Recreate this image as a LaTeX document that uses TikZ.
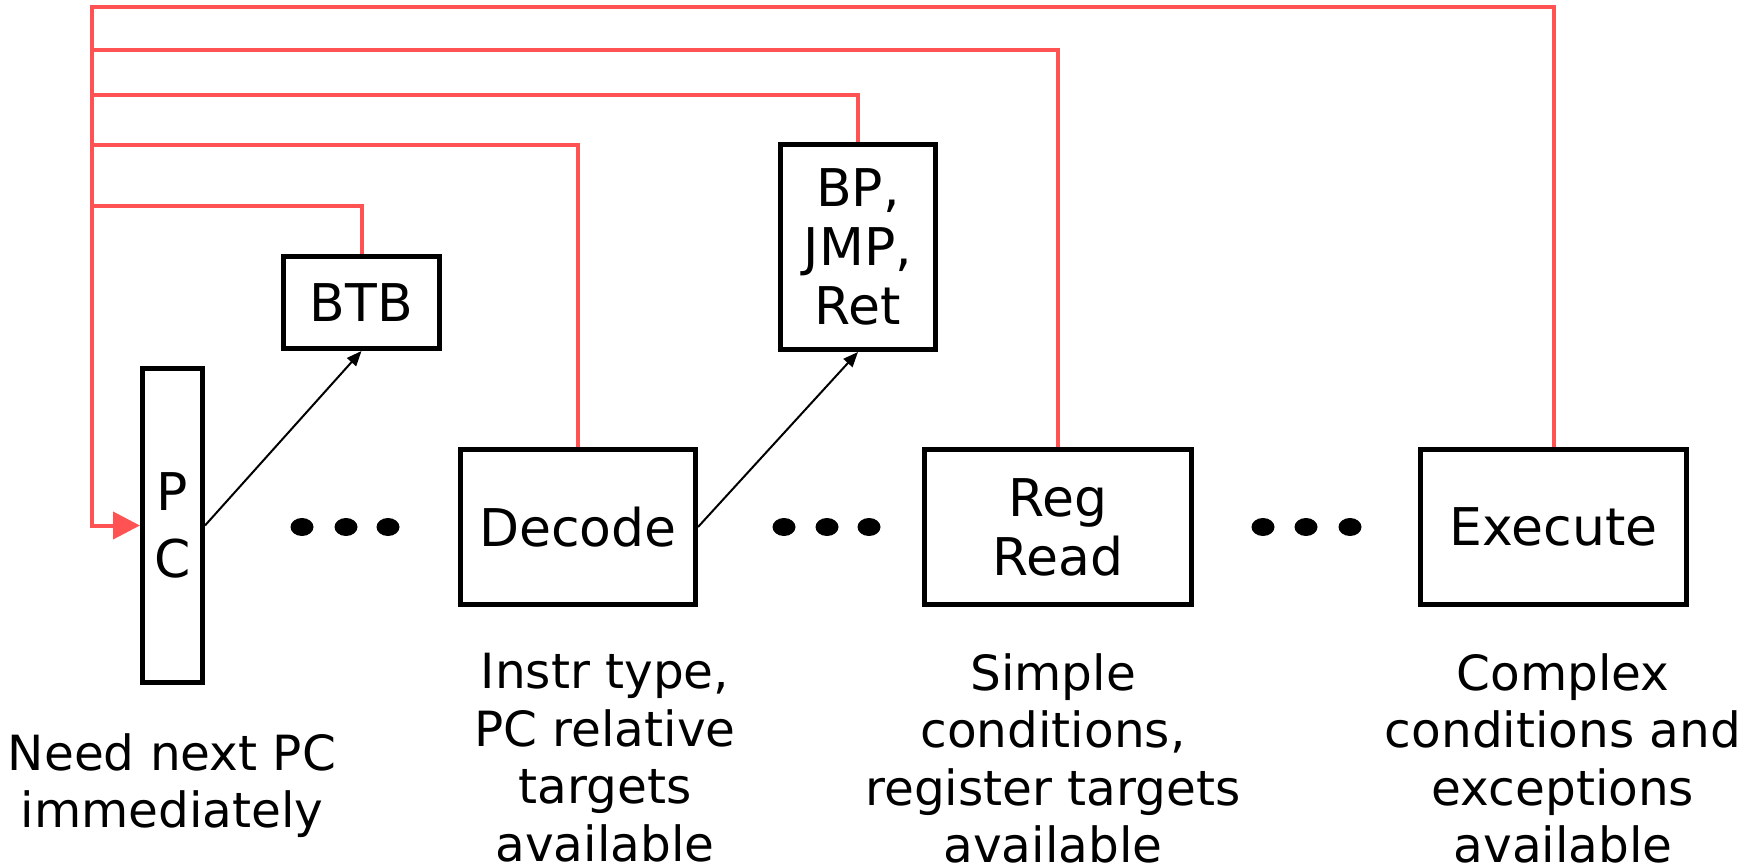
\documentclass[tikz,border=0pt]{standalone}
\usepackage{fontspec}
\setmainfont{DejaVu Sans}
\usetikzlibrary{calc,arrows.meta}
\definecolor{branchred}{RGB}{255,82,82}

\tikzset{
    stage/.style={draw, line width=5pt, inner sep=0pt, align=center,
        font=\fontsize{52}{59}\selectfont},
    note/.style={inner sep=0pt, align=center, anchor=north,
        font=\fontsize{48.5}{57.5}\selectfont},
    redirect/.style={branchred, line width=4pt},
    lookup/.style={-{Triangle[length=15pt,width=12pt]}, line width=2pt},
}

\begin{document}
\begin{tikzpicture}[x=1pt, y=-1pt]
        % Picture frame, same proportions as the slide
        \useasboundingbox (0, 0) rectangle (1756, 867);

        % x position of the red spine feeding the PC
        \pgfmathsetmacro{\spine}{92}

        % Pipeline stages
        \node[stage, minimum width=60, minimum height=314] (pc) at (172.5, 525.5) {\raisebox{-6pt}{P}\\[8pt]\raisebox{-6pt}{C}};
        \node[stage, minimum width=156, minimum height=92] (btb) at (361.5, 302.5) {BTB};
        \node[stage, minimum width=235, minimum height=155] (dec) at (578, 527) {Decode};
        \node[stage, minimum width=155, minimum height=205] (bp) at (858, 247) {BP,\\JMP,\\Ret};
        \node[stage, minimum width=267, minimum height=155] (reg) at (1058, 527) {Reg\\Read};
        \node[stage, minimum width=266, minimum height=155] (ex) at (1553.5, 527) {Execute};

        % Where each redirect joins the spine
        \coordinate (tapEx) at (\spine, 7);
        \coordinate (tapReg) at (\spine, 50);
        \coordinate (tapBp) at (\spine, 95);
        \coordinate (tapDec) at (\spine, 145);
        \coordinate (tapBtb) at (\spine, 206);

        % Notes under the stages
        \node[note] (needNote) at (172, 733) {Need next PC\\immediately};
        \node[note] (decNote) at (605, 653) {Instr type,\\PC relative\\targets\\available};
        \node[note] (regNote) at (1053, 653) {Simple\\conditions,\\register targets\\available};
        \node[note] (exNote) at (1563, 653) {Complex\\conditions and\\exceptions\\available};

        % Elided stages
        \foreach \x in {302, 346, 388, 784, 827, 869, 1263, 1306, 1350} {
            \fill (\x, 527) ellipse [x radius=11.5pt, y radius=9pt];
        }

        % Lookups
        \draw[lookup] (pc.east) -- (btb.south);
        \draw[lookup] (dec.east) -- (bp.south);

        % Redirects back to the PC
        \begin{scope}[redirect]
            \draw[-{Triangle[length=27pt,width=27pt]}] (ex.north) |- (tapEx) |- (pc.west);
            \draw (reg.north) |- (tapReg);
            \draw (bp.north) |- (tapBp);
            \draw (dec.north) |- (tapDec);
            \draw (btb.north) |- (tapBtb);
        \end{scope}

    \end{tikzpicture}
\end{document}
